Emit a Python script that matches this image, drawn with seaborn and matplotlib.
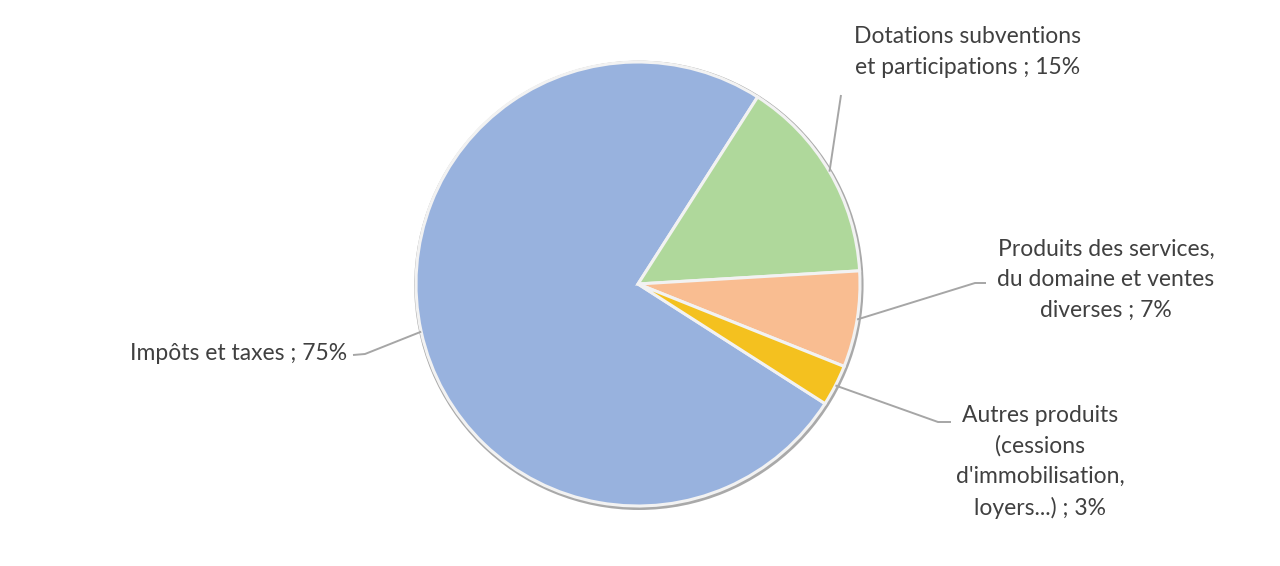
import numpy as np
import matplotlib
matplotlib.use("Agg")
import matplotlib.pyplot as plt
import seaborn as sns

# ---- data ----
categories = [
    "Impôts et taxes",
    "Dotations subventions\net participations",
    "Produits des services,\ndu domaine et ventes\ndiverses",
    "Autres produits\n(cessions\nd'immobilisation,\nloyers...)",
]
shares = [75, 15, 7, 3]
colors = ["#98b2de", "#afd89b", "#f9bd91", "#f4c11f"]

sns.set_theme(style="white")
plt.rcParams["font.family"] = ["Lato", "DejaVu Sans"]

W, H = 1280, 566
fig = plt.figure(figsize=(W / 100, H / 100), dpi=100)
cx, cy, R = 638, 284, 222
ax = fig.add_axes([(cx - R) / W, (H - cy - R) / H, 2 * R / W, 2 * R / H])
ax.axis("off")

def px(x, y):
    return ((x - cx) / R, (cy - y) / R)

# shadow ring
ax.pie([1], radius=1.012, center=(0.004, -0.006), colors=["#a9a9a9"],
       wedgeprops=dict(linewidth=0))
wedges, _ = ax.pie(shares, colors=colors, startangle=-32.6, counterclock=False,
                   radius=1.0,
                   wedgeprops=dict(edgecolor="#f2f2f2", linewidth=2.2))
for w in wedges:
    w.set_clip_on(False)

label_pos = [px(347, 354), px(968, 52), px(1106, 280), px(1040, 462)]
elbows = [[px(365, 354), px(353, 355)],
          [px(841, 95)],
          [px(975, 283), px(986, 283)],
          [px(938, 422), px(951, 422)]]
ha = ["right", "center", "center", "center"]

txtcol = "#404040"
for i, w in enumerate(wedges):
    ang = np.deg2rad((w.theta1 + w.theta2) / 2)
    start = (np.cos(ang), np.sin(ang))
    pts = [start] + elbows[i]
    xs, ys = zip(*pts)
    ax.plot(xs, ys, color="#a6a6a6", lw=1.4, clip_on=False, solid_capstyle="butt")
    ax.text(label_pos[i][0], label_pos[i][1], f"{categories[i]} ; {shares[i]}%",
            ha=ha[i], va="center", fontsize=16.5, color=txtcol,
            linespacing=1.55, clip_on=False)

ax.set_xlim(-1, 1)
ax.set_ylim(-1, 1)
ax.set_aspect("equal")

fig.savefig("out.png", dpi=100, facecolor="white")
